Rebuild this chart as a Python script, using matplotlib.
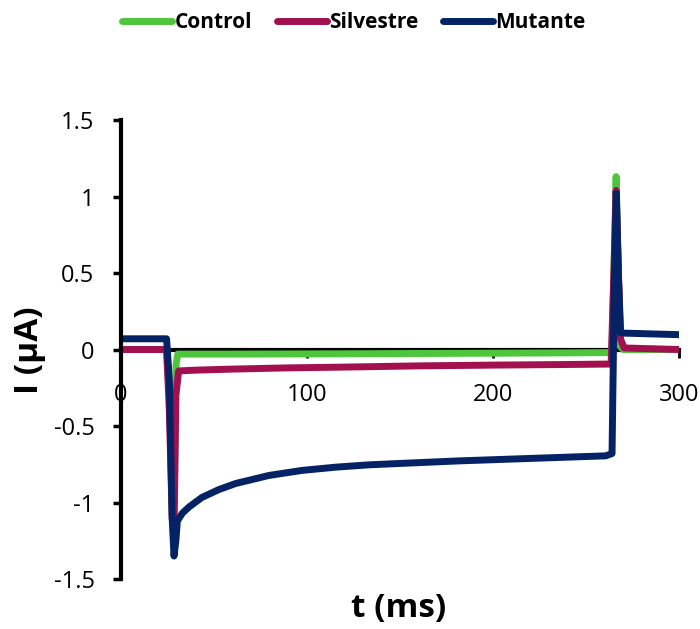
import matplotlib
matplotlib.use("Agg")
import matplotlib.pyplot as plt

# ---- data ----
t_control = [0, 24.5, 26.0, 27.5, 28.6, 29.6, 30.5, 60, 120, 180, 240, 264.0, 265.2, 266.2, 267.2, 268.4, 270, 300]
i_control = [0.0, 0.0, -0.3, -0.9, -1.0, -0.1, -0.03, -0.03, -0.028, -0.025, -0.022, -0.02, 0.6, 1.13, 0.6, 0.02, 0.0, 0.0]

t_silvestre = [0, 24.5, 26.0, 27.5, 28.5, 29.5, 31, 40, 60, 90, 120, 160, 200, 240, 263.5, 265.0, 266.2, 267.4, 268.5, 270.5, 300]
i_silvestre = [0.0, 0.0, -0.4, -1.1, -1.2, -0.3, -0.14, -0.135, -0.128, -0.12, -0.115, -0.107, -0.102, -0.098, -0.095, 0.5, 1.04, 0.5, 0.07, 0.01, 0.0]

t_mutante = [0, 24.5, 26.0, 27.5, 28.5, 29.5, 30.3, 33, 36.5, 43.5, 52.7, 61.6, 79.6, 97.5, 115.5, 133, 145.8, 181.7, 217.6, 260.6, 264.0, 265.2, 266.3, 267.4, 268.6, 270.4, 300]
i_mutante = [0.07, 0.07, -0.2, -1.1, -1.35, -1.25, -1.12, -1.07, -1.03, -0.967, -0.915, -0.876, -0.823, -0.79, -0.769, -0.754, -0.747, -0.728, -0.713, -0.695, -0.68, 0.4, 1.02, 0.5, 0.11, 0.107, 0.097]

series_names = ["Control", "Silvestre", "Mutante"]
series_colors = ["#4DC63B", "#A31050", "#042264"]

x_ticks = [0, 100, 200, 300]
y_ticks = [-1.5, -1, -0.5, 0, 0.5, 1, 1.5]
y_tick_labels = ["-1.5", "-1", "-0.5", "0", "0.5", "1", "1.5"]

plt.rcParams['font.family'] = ['Open Sans', 'DejaVu Sans']

fig = plt.figure(figsize=(7.0, 6.29), dpi=100)
ax = fig.add_axes([121/700, 1-579/629, (679-121)/700, (579-120)/629])

lw = 5.0
for t, i, name, c in zip([t_control, t_silvestre, t_mutante],
                         [i_control, i_silvestre, i_mutante],
                         series_names, series_colors):
    ax.plot(t, i, color=c, lw=lw, label=name, solid_capstyle='round',
            solid_joinstyle='round', zorder=3)

ax.set_xlim(0, 300)
ax.set_ylim(-1.5, 1.5)
ax.set_xticks(x_ticks)
ax.set_xticklabels([str(v) for v in x_ticks])
ax.set_yticks(y_ticks)
ax.set_yticklabels(y_tick_labels)

for s in ['top', 'right']:
    ax.spines[s].set_visible(False)
ax.spines['bottom'].set_position(('data', 0))
ax.spines['left'].set_linewidth(3)
ax.spines['bottom'].set_linewidth(3)
ax.spines['left'].set_zorder(4)
ax.spines['bottom'].set_zorder(2)

ax.tick_params(axis='y', direction='out', length=6, width=2.5, pad=13, labelsize=17)
ax.tick_params(axis='x', direction='out', length=6, width=2, pad=18, labelsize=17)

fig.text(29.5/700, 1-350/629, "I (µA)", rotation=90, ha='center', va='center',
         fontsize=24, fontweight='bold')
fig.text(399/700, 1-609/629, "t (ms)", ha='center', va='center',
         fontsize=24, fontweight='bold')

leg = fig.legend(loc='center', bbox_to_anchor=(354/700, 1-23/629), ncol=3,
                 frameon=False, handlelength=2.4, handletextpad=0.1,
                 columnspacing=1.2, prop={'weight': 'bold', 'size': 15})
for line in leg.get_lines():
    line.set_linewidth(lw)
    line.set_solid_capstyle('round')

fig.savefig("out.png", dpi=100)
